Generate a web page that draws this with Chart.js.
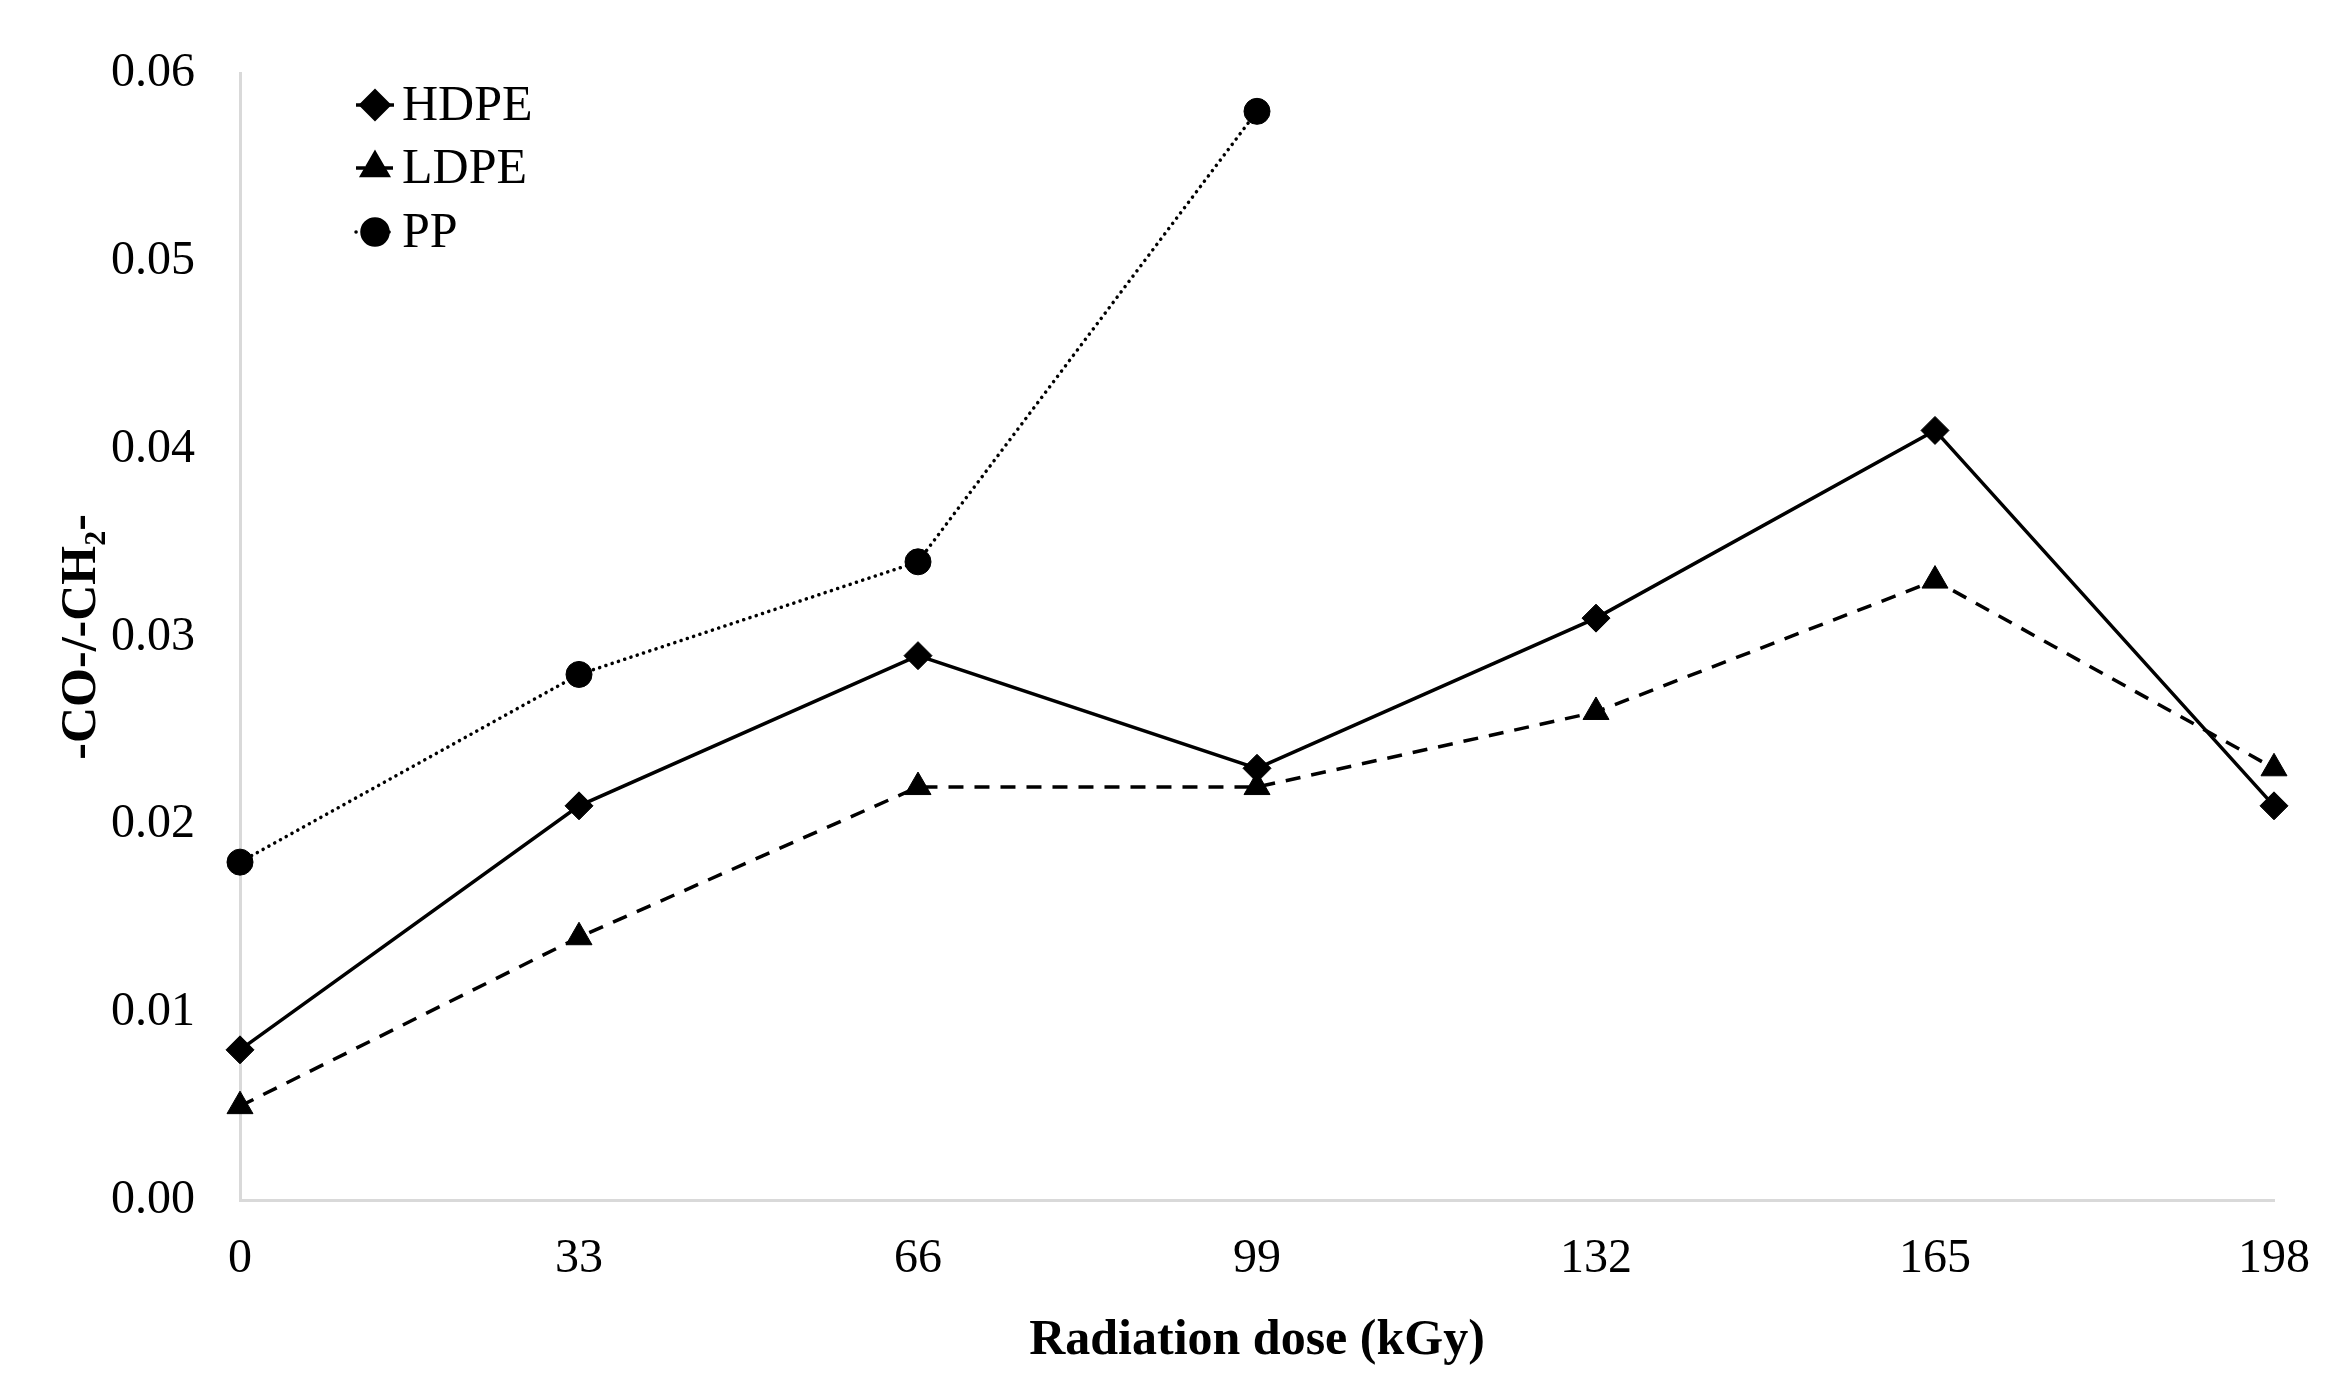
<!DOCTYPE html>
<html>
<head>
<meta charset="utf-8">
<script src="https://cdn.jsdelivr.net/npm/chart.js@4"></script>
<style>
  html, body { margin: 0; padding: 0; background: #ffffff; }
  #wrap { width: 2341px; height: 1395px; }
</style>
</head>
<body>
<div id="wrap"><canvas id="c" width="2341" height="1395"></canvas></div>
<script>
const doses = ['0', '33', '66', '99', '132', '165', '198'];
const hdpe = [0.008, 0.021, 0.029, 0.023, 0.031, 0.041, 0.021];
const ldpe = [0.005, 0.014, 0.022, 0.022, 0.026, 0.033, 0.023];
const pp   = [0.018, 0.028, 0.034, 0.058, null, null, null];
const seriesNames = ['HDPE', 'LDPE', 'PP'];
const yTitle = '-CO-/-CH\u2082-';
const xTitle = 'Radiation dose (kGy)';

const FONT = "'Liberation Serif', 'DejaVu Serif', serif";

const legendPlugin = {
  id: 'insideLegend',
  afterDatasetsDraw(chart) {
    const ctx = chart.ctx;
    const x0 = 356, x1 = 394, xc = 375, tx = 402;
    const ys = [105, 168, 232];
    chart.data.datasets.forEach((ds, i) => {
      const y = ys[i];
      ctx.save();
      ctx.strokeStyle = ds.borderColor;
      ctx.lineWidth = ds.borderWidth;
      ctx.lineCap = ds.borderCapStyle || 'butt';
      ctx.setLineDash(ds.legendDash || []);
      ctx.beginPath();
      ctx.moveTo(x0, y);
      ctx.lineTo(x1, y);
      ctx.stroke();
      ctx.setLineDash([]);
      ctx.fillStyle = ds.pointBackgroundColor;
      Chart.helpers.drawPoint(ctx, {
        pointStyle: ds.pointStyle,
        radius: ds.pointRadius,
        borderWidth: 1,
        rotation: 0
      }, xc, y);
      ctx.fill();
      ctx.fillStyle = '#000';
      ctx.font = "50px " + FONT;
      ctx.textBaseline = 'middle';
      ctx.textAlign = 'left';
      ctx.fillText(ds.label, tx, y + 2);
      ctx.restore();
    });
  }
};

new Chart(document.getElementById('c'), {
  type: 'line',
  data: {
    labels: doses,
    datasets: [
      {
        label: seriesNames[0], data: hdpe,
        borderColor: '#000', backgroundColor: '#000',
        borderWidth: 3.5, borderDash: [], legendDash: [],
        pointStyle: 'rectRot', pointRadius: 14,
        pointBackgroundColor: '#000', pointBorderColor: '#000', pointBorderWidth: 1,
        tension: 0
      },
      {
        label: seriesNames[1], data: ldpe,
        borderColor: '#000', backgroundColor: '#000',
        borderWidth: 3.5, borderDash: [15, 11], legendDash: [9, 5],
        pointStyle: 'triangle', pointRadius: 15,
        pointBackgroundColor: '#000', pointBorderColor: '#000', pointBorderWidth: 1,
        tension: 0
      },
      {
        label: seriesNames[2], data: pp,
        borderColor: '#000', backgroundColor: '#000',
        borderWidth: 3.5, borderDash: [0.1, 6.5], legendDash: [0.1, 6.5],
        borderCapStyle: 'round',
        pointStyle: 'circle', pointRadius: 13,
        pointBackgroundColor: '#000', pointBorderColor: '#000', pointBorderWidth: 1,
        tension: 0, spanGaps: false
      }
    ]
  },
  options: {
    responsive: false,
    animation: false,
    devicePixelRatio: 1,
    layout: { padding: { left: 0, top: 64, right: 62, bottom: 0 } },
    plugins: {
      legend: { display: false },
      tooltip: { enabled: false }
    },
    scales: {
      x: {
        type: 'category',
        offset: false,
        grid: { display: false, drawTicks: false },
        border: { display: true, color: '#d9d9d9', width: 3 },
        ticks: { color: '#000', font: { family: FONT, size: 48 }, padding: 31, maxRotation: 0, autoSkip: false },
        title: { display: true, text: xTitle, color: '#000', font: { family: FONT, size: 50, weight: 'bold' }, padding: { top: 0, bottom: 24 } },
        afterFit(s) { s.height = 195; }
      },
      y: {
        min: 0, max: 0.06,
        grid: { display: false, drawTicks: false },
        border: { display: true, color: '#d9d9d9', width: 3 },
        ticks: { stepSize: 0.01, color: '#000', font: { family: FONT, size: 48 }, padding: 45,
          callback: v => Number(v).toFixed(2) },
        title: { display: true, text: yTitle, color: '#000', font: { family: FONT, size: 50, weight: 'bold' }, padding: { top: 52, bottom: 0 } },
        afterFit(s) { s.width = 240; }
      }
    }
  },
  plugins: [legendPlugin]
});
</script>
</body>
</html>
